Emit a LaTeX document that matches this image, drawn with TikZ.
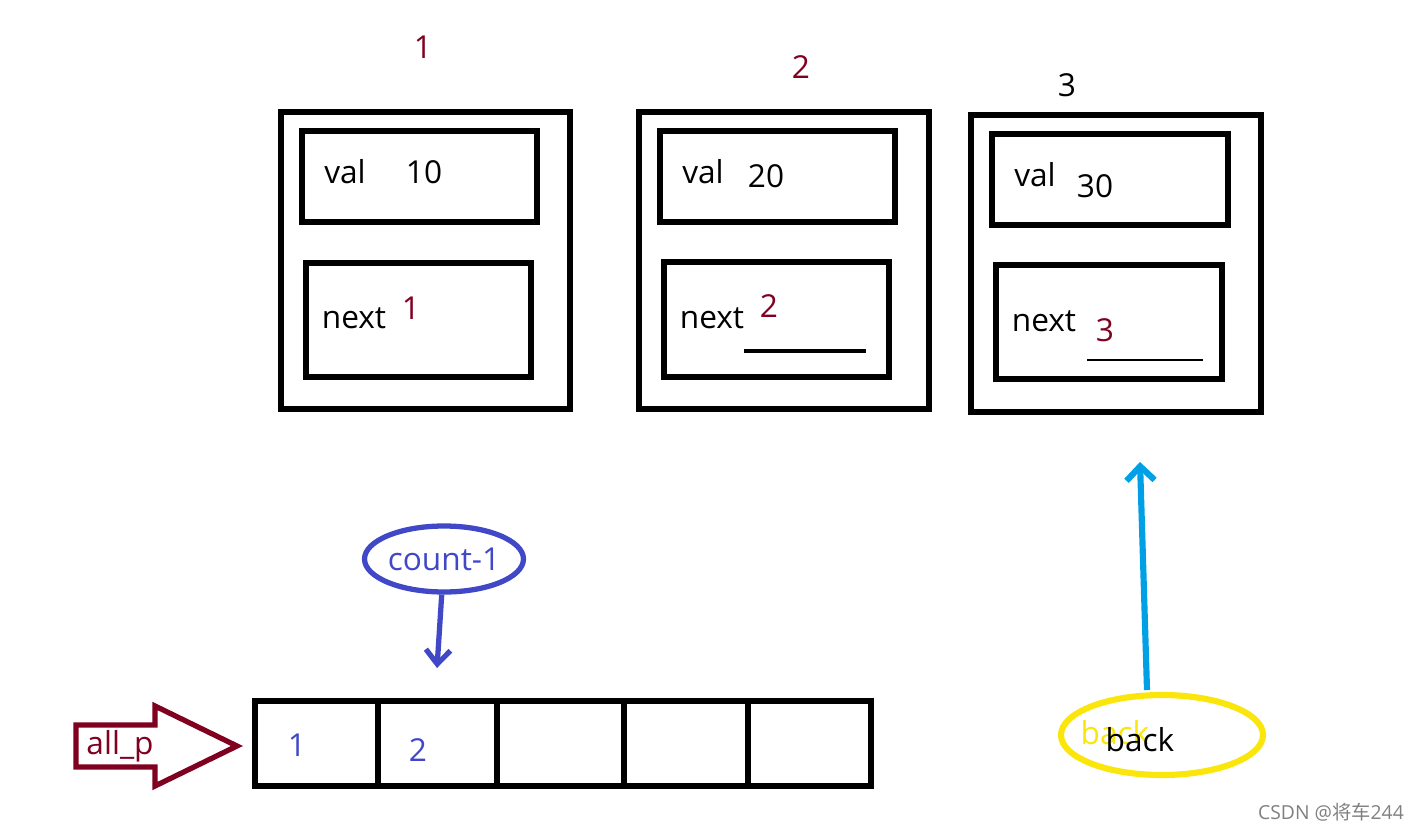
\documentclass[tikz,border=0pt]{standalone}
\usepackage{fontspec}
\setmainfont{Open Sans}
\newfontfamily\cjk{Noto Sans CJK SC}
\usetikzlibrary{arrows.meta,positioning,shapes.geometric}
\definecolor{darkred}{RGB}{128,0,32}
\definecolor{penblue}{RGB}{64,72,200}
\definecolor{skyblue}{RGB}{0,160,230}
\definecolor{penyellow}{RGB}{250,230,10}
\tikzset{
  outerbox/.style={draw,line width=3pt},
  innerbox/.style={draw,line width=3pt},
  cellbox/.style={draw,line width=3.5pt},
  txt/.style={font=\fontsize{18}{18}\selectfont},
}
\begin{document}
\begin{tikzpicture}[x=0.02cm,y=-0.02cm]
  \useasboundingbox (0,0) rectangle (1420,828);
  % Node 1
  \node[outerbox,minimum width=289*0.02cm,minimum height=297*0.02cm] (o1) at (425.5,260.5) {};
  \node[innerbox,minimum width=235*0.02cm,minimum height=91*0.02cm] (v1) at (419.5,176.5) {};
  \node[innerbox,minimum width=225*0.02cm,minimum height=114*0.02cm] (n1) at (418.5,320) {};
  \node[txt,text=darkred] (h1) at (423,47) {1};
  \node[txt] (vl1) at (345,172) {val};
  \node[txt] (vv1) at (424,172) {10};
  \node[txt] (nl1) at (354,318) {next};
  \node[txt,text=darkred] (nv1) at (411,308) {1};
  % Node 2
  \node[outerbox,minimum width=290*0.02cm,minimum height=297*0.02cm] (o2) at (784,260.5) {};
  \node[innerbox,minimum width=235*0.02cm,minimum height=91*0.02cm] (v2) at (777.5,176.5) {};
  \node[innerbox,minimum width=225*0.02cm,minimum height=115*0.02cm] (n2) at (776.5,319.5) {};
  \node[txt,text=darkred] (h2) at (801,67) {2};
  \node[txt] (vl2) at (703,172) {val};
  \node[txt] (vv2) at (766,176) {20};
  \node[txt] (nl2) at (712,318) {next};
  \node[txt,text=darkred] (nv2) at (769,306) {2};
  \coordinate (u2a) at (744,351);
  \coordinate (u2b) at (866,351);
  \draw[line width=2.5pt] (u2a) -- (u2b);
  % Node 3
  \node[outerbox,minimum width=290*0.02cm,minimum height=297*0.02cm] (o3) at (1116,263.5) {};
  \node[innerbox,minimum width=236*0.02cm,minimum height=91*0.02cm] (v3) at (1110,179.5) {};
  \node[innerbox,minimum width=226*0.02cm,minimum height=114*0.02cm] (n3) at (1109,322) {};
  \node[txt] (h3) at (1067,85) {3};
  \node[txt] (vl3) at (1035,175) {val};
  \node[txt] (vv3) at (1095,186) {30};
  \node[txt] (nl3) at (1044,321) {next};
  \node[txt,text=darkred] (nv3) at (1105,330) {3};
  \coordinate (u3a) at (1087,360);
  \coordinate (u3b) at (1203,360);
  \draw[line width=1.2pt] (u3a) -- (u3b);
  % Array
  \foreach \xa/\xb/\nm in {255/378/c1,378/497/c2,497/624/c3,624/748/c4,748/871/c5}
    \node[cellbox,minimum width=(\xb-\xa)*0.02cm,minimum height=85*0.02cm] (\nm) at ({(\xa+\xb)/2},743.5) {};
  \node[txt,text=penblue] (a1) at (297,745) {1};
  \node[txt,text=penblue] (a2) at (418,750) {2};
  % all_p
  \draw[darkred,line width=3pt,line join=miter]
    (76,725) -- (155,725) -- (155,706) -- (237,746) -- (155,786) -- (155,767) -- (76,767) -- cycle;
  \node[txt,text=darkred] (allpl) at (120,746) {all\_p};
  % count-1
  \node[ellipse,draw=penblue,line width=3pt,minimum width=144*0.02cm,minimum height=66*0.02cm,
        txt,text=penblue,inner sep=0pt] (cnt) at (444,559) {count-1};
  \coordinate (cntend) at (437,668);
  \draw[penblue,line width=3pt,-{Straight Barb[length=8pt,width=14pt]}] (cnt) -- (cntend);
  % back
  \node[ellipse,draw=penyellow,line width=3.5pt,minimum width=202*0.02cm,minimum height=80*0.02cm,
        inner sep=0pt] (bk) at (1162,735) {};
  \node[txt,text=penyellow] (bky) at (1115,733) {back};
  \node[txt] (bkl) at (1140,740) {back};
  \coordinate (bkend) at (1140,462);
  \draw[skyblue,line width=3.5pt,-{Straight Barb[length=8pt,width=16pt]}] (1147,690) -- (bkend);
  % watermark
  \node[text=gray,font=\fontsize{11}{11}\selectfont,anchor=east] (wm) at (1410,812) {CSDN @{\cjk 将车}244};
\end{tikzpicture}
\end{document}
